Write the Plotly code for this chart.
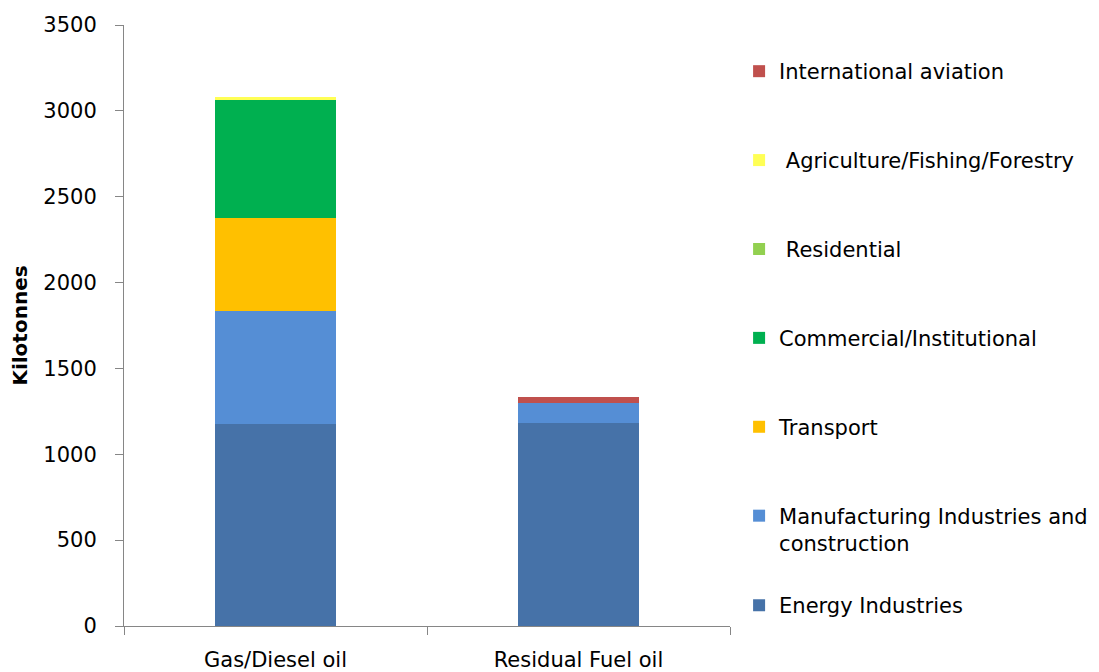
import plotly.graph_objects as go

categories = ["Gas/Diesel oil", "Residual Fuel oil"]
series_names = [
    "Energy Industries",
    "Manufacturing Industries and<br>construction",
    "Transport",
    "Commercial/Institutional",
    " Residential",
    " Agriculture/Fishing/Forestry",
    "International aviation",
]
energy = [1176, 1184]
manufacturing = [659, 116]
transport = [541, 0]
commercial = [693, 0]
residential = [0, 0]
agriculture = [10, 0]
aviation = [0, 35]
colors = ["#4672A8", "#558ED5", "#FFC000", "#00B050", "#92D050", "#FFFF55", "#C0504D"]

values = [energy, manufacturing, transport, commercial, residential, agriculture, aviation]

FONT = "DejaVu Sans"
FS = 21
fig = go.Figure()
n = len(series_names)
for i, (name, vals, col) in enumerate(zip(series_names, values, colors)):
    fig.add_trace(go.Bar(
        x=categories, y=vals, name=name,
        marker=dict(color=col, line=dict(width=0)),
        width=0.4, legendgroup=f"g{i}", legendrank=n - i,
        legend="legend2" if i == 0 else "legend",
    ))

legend_common = dict(
    traceorder="grouped",
    font=dict(family=FONT, size=FS, color="#000000"),
    valign="top",
    itemwidth=30,
    bgcolor="rgba(0,0,0,0)",
    xanchor="left", yanchor="top", x=1.015,
)

fig.update_layout(
    barmode="stack",
    width=1099, height=672,
    margin=dict(l=116, r=377, t=17, b=54, autoexpand=False),
    plot_bgcolor="white", paper_bgcolor="white",
    font=dict(family=FONT, size=FS, color="#000000"),
    legend=dict(legend_common, tracegroupgap=58.6, y=0.9567),
    legend2=dict(legend_common, y=0.068),
    xaxis=dict(
        range=[-0.5, 1.5], automargin=False,
        showline=True, linecolor="#868686", linewidth=1,
        ticks="outside", tickson="boundaries", ticklen=8, tickcolor="#868686",
        showgrid=False,
        tickfont=dict(family=FONT, size=FS),
        ticklabelstandoff=15,
    ),
    yaxis=dict(
        range=[0, 3500], dtick=500, automargin=False,
        showline=True, linecolor="#868686", linewidth=1,
        ticks="outside", ticklen=8, tickcolor="#868686",
        showgrid=False, zeroline=False,
        tickfont=dict(family=FONT, size=FS),
        ticklabelstandoff=14,
        title=dict(text="<b>Kilotonnes</b>", font=dict(family=FONT, size=20), standoff=14),
    ),
)

fig.write_html("out.html")
